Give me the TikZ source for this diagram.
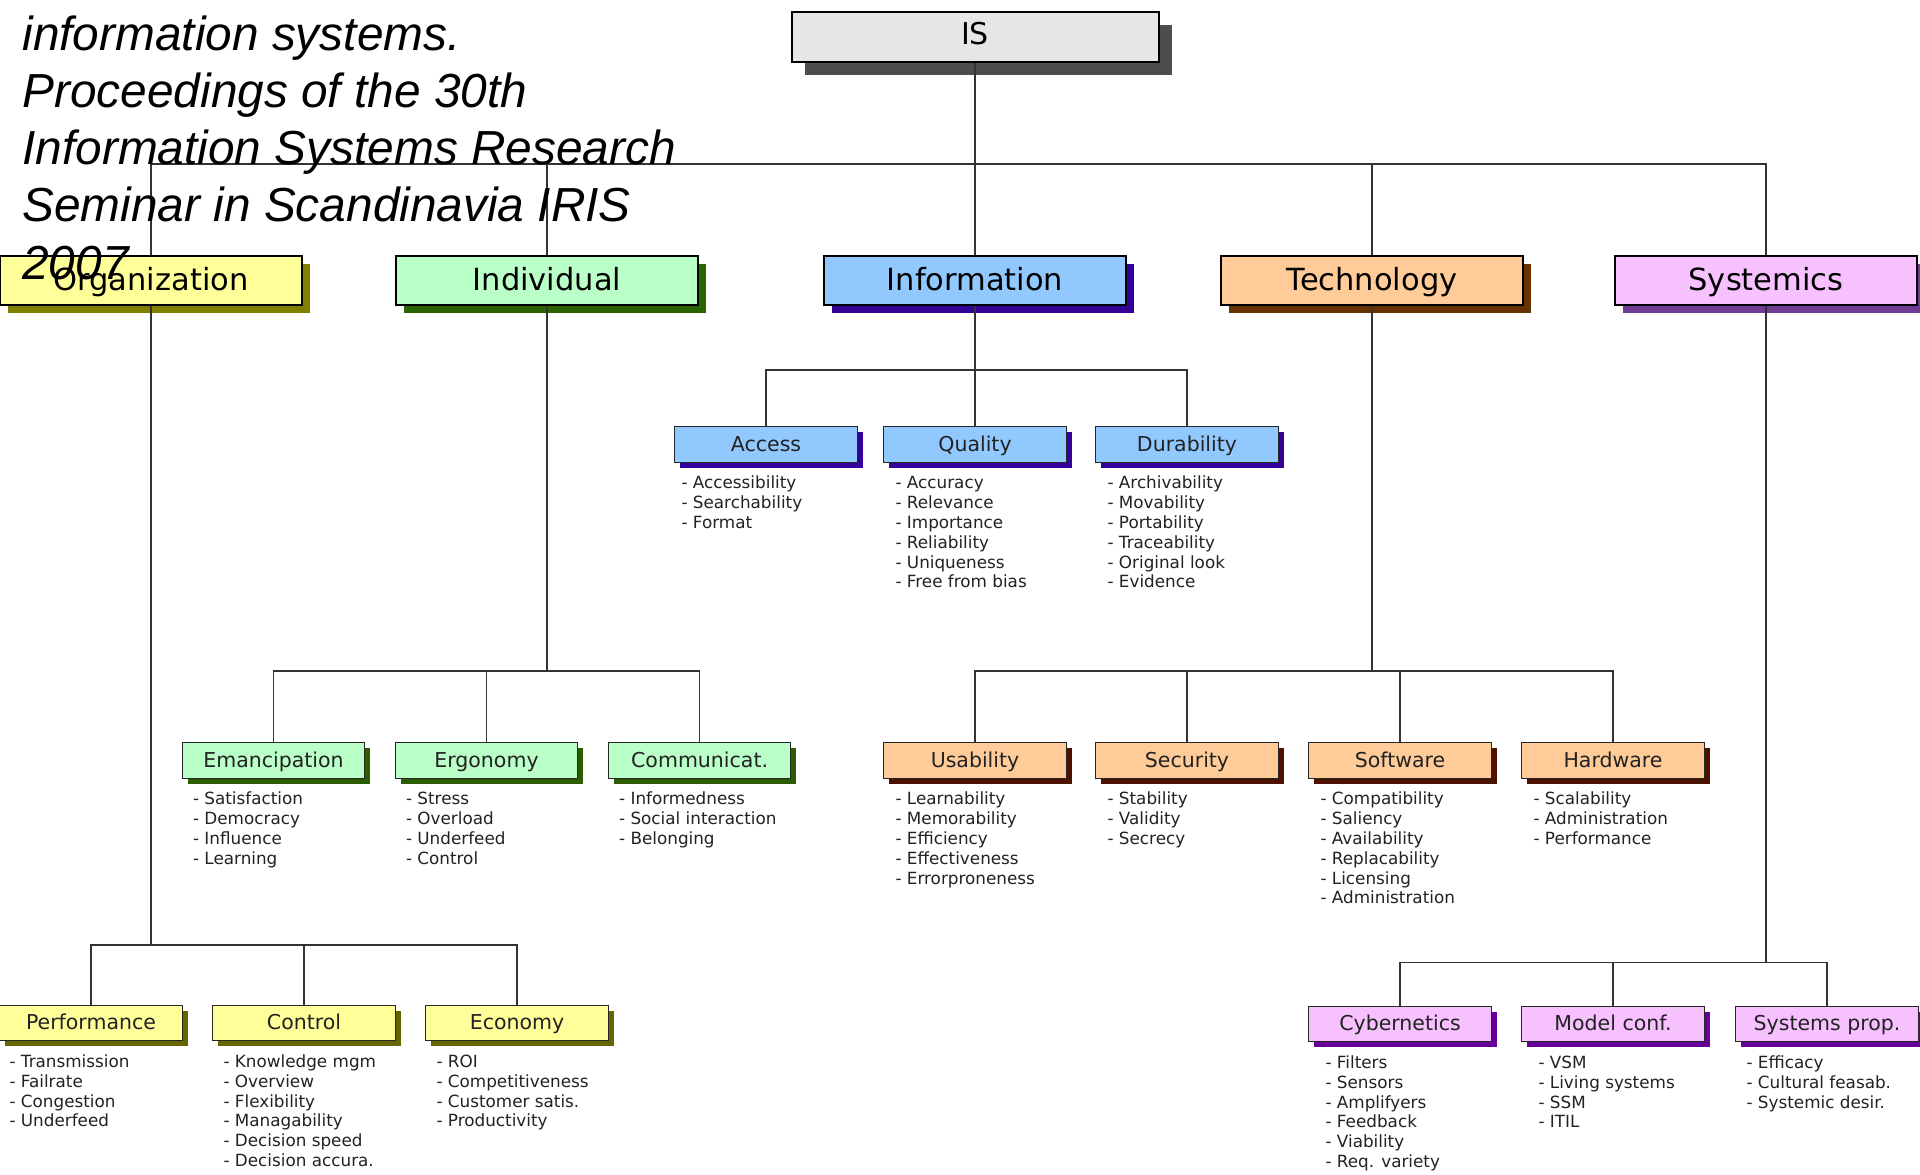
\documentclass[tikz,border=0pt]{standalone}
\usepackage{fontspec}
\setmainfont{DejaVu Sans}
\newfontfamily\titlefont{Liberation Sans}
\usetikzlibrary{shadows,calc}
\definecolor{isF}{HTML}{E6E6E6}
\definecolor{isS}{HTML}{4D4D4D}
\definecolor{orgF}{HTML}{FFFF99}
\definecolor{orgS}{HTML}{808000}
\definecolor{orgCS}{HTML}{666600}
\definecolor{indF}{HTML}{BBFFC8}
\definecolor{indS}{HTML}{2B6300}
\definecolor{indCS}{HTML}{2B5C00}
\definecolor{infF}{HTML}{91C9FF}
\definecolor{infS}{HTML}{330099}
\definecolor{tecF}{HTML}{FFCC99}
\definecolor{tecS}{HTML}{663300}
\definecolor{tecCS}{HTML}{4D1100}
\definecolor{sysF}{HTML}{F7C0FF}
\definecolor{sysS}{HTML}{703C96}
\definecolor{sysCS}{HTML}{660099}
\definecolor{lineC}{HTML}{333333}
\definecolor{txtC}{HTML}{222222}
\tikzset{
  rootbox/.style={draw=black, line width=1pt, fill=isF, minimum width=183.5pt, minimum height=25pt, inner sep=0pt,
    font=\fontsize{15}{18}\selectfont, text height=10.9pt, text depth=3.4pt,
    drop shadow={opacity=1, fill=isS, shadow xshift=6.5pt, shadow yshift=-6.5pt}},
  topbox/.style 2 args={draw=black, line width=1pt, fill=#1, minimum width=151.2pt, minimum height=24.5pt, inner sep=0pt,
    font=\fontsize{15.25}{18}\selectfont, text height=11.1pt, text depth=1.2pt,
    drop shadow={opacity=1, fill=#2, shadow xshift=4pt, shadow yshift=-4pt}},
  childbox/.style 2 args={draw=black!85, line width=0.65pt, fill=#1, minimum width=91.2pt, minimum height=17.75pt, inner sep=0pt,
    font=\fontsize{10.25}{12}\selectfont, text=txtC, text height=7.5pt, text depth=0.9pt,
    drop shadow={opacity=1, fill=#2, shadow xshift=2.75pt, shadow yshift=-2.75pt}},
  items/.style={anchor=base west, align=left, inner sep=0pt, font=\fontsize{8.4}{9.9}\selectfont, text=txtC},
  conn/.style={draw=lineC, line width=0.6pt},
  titletext/.style={anchor=base west, align=left, inner sep=0pt, font=\titlefont\itshape\fontsize{23.9}{28.6}\selectfont}
}
\begin{document}
\begin{tikzpicture}[x=0.5pt,y=-0.5pt]
\useasboundingbox (0,0) rectangle (1920,1174);
\fill[white] (0,0) rectangle (1920,1174);

% root and top level
\node[rootbox] (is) at (975,37.3) {IS};
\node[topbox={orgF}{orgS}] (org) at (151,280.5) {Organization};
\node[topbox={indF}{indS}] (ind) at (547,280.5) {Individual};
\node[topbox={infF}{infS}] (inf) at (975,280.5) {Information};
\node[topbox={tecF}{tecS}] (tec) at (1372,280.5) {Technology};
\node[topbox={sysF}{sysS}] (sys) at (1766,280.5) {Systemics};

% information children
\node[childbox={infF}{infS}] (acc) at (766,444.5) {Access};
\node[childbox={infF}{infS}] (qua) at (975,444.5) {Quality};
\node[childbox={infF}{infS}] (dur) at (1187,444.5) {Durability};

% individual children
\node[childbox={indF}{indCS}] (ema) at (273.5,760.5) {Emancipation};
\node[childbox={indF}{indCS}] (erg) at (486.5,760.5) {Ergonomy};
\node[childbox={indF}{indCS}] (com) at (699.6,760.5) {Communicat.};

% technology children
\node[childbox={tecF}{tecCS}] (usa) at (975,760.5) {Usability};
\node[childbox={tecF}{tecCS}] (sec) at (1187,760.5) {Security};
\node[childbox={tecF}{tecCS}] (sof) at (1400,760.5) {Software};
\node[childbox={tecF}{tecCS}] (har) at (1613,760.5) {Hardware};

% organization children
\node[childbox={orgF}{orgCS}] (per) at (91,1023) {Performance};
\node[childbox={orgF}{orgCS}] (con) at (304,1023) {Control};
\node[childbox={orgF}{orgCS}] (eco) at (517,1023) {Economy};

% systemics children
\node[childbox={sysF}{sysCS}] (cyb) at (1400,1024) {Cybernetics};
\node[childbox={sysF}{sysCS}] (mod) at (1613,1024) {Model conf.};
\node[childbox={sysF}{sysCS}] (spr) at (1827,1024) {Systems prop.};

% item lists (anchored at the baseline of their last line)
\node[items] (accL) at ($(acc.south west)+(7,65.6)$) {- Accessibility\\- Searchability\\- Format};
\node[items] (quaL) at ($(qua.south west)+(12,125)$) {- Accuracy\\- Relevance\\- Importance\\- Reliability\\- Uniqueness\\- Free from bias};
\node[items] (durL) at ($(dur.south west)+(12,125)$) {- Archivability\\- Movability\\- Portability\\- Traceability\\- Original look\\- Evidence};

\node[items] (emaL) at ($(ema.south west)+(11,85.4)$) {- Satisfaction\\- Democracy\\- Influence\\- Learning};
\node[items] (ergL) at ($(erg.south west)+(11,85.4)$) {- Stress\\- Overload\\- Underfeed\\- Control};
\node[items] (comL) at ($(com.south west)+(11,65.6)$) {- Informedness\\- Social interaction\\- Belonging};

\node[items] (usaL) at ($(usa.south west)+(12,105.2)$) {- Learnability\\- Memorability\\- Efficiency\\- Effectiveness\\- Errorproneness};
\node[items] (secL) at ($(sec.south west)+(12,65.6)$) {- Stability\\- Validity\\- Secrecy};
\node[items] (sofL) at ($(sof.south west)+(12,125)$) {- Compatibility\\- Saliency\\- Availability\\- Replacability\\- Licensing\\- Administration};
\node[items] (harL) at ($(har.south west)+(12,65.6)$) {- Scalability\\- Administration\\- Performance};

\node[items] (perL) at ($(per.south west)+(10,85.4)$) {- Transmission\\- Failrate\\- Congestion\\- Underfeed};
\node[items] (conL) at ($(con.south west)+(11,125)$) {- Knowledge mgm\\- Overview\\- Flexibility\\- Managability\\- Decision speed\\- Decision accura.};
\node[items] (ecoL) at ($(eco.south west)+(11,85.4)$) {- ROI\\- Competitiveness\\- Customer satis.\\- Productivity};

\node[items] (cybL) at ($(cyb.south west)+(17,125)$) {- Filters\\- Sensors\\- Amplifyers\\- Feedback\\- Viability\\- Req. variety};
\node[items] (modL) at ($(mod.south west)+(17,85.4)$) {- VSM\\- Living systems\\- SSM\\- ITIL};
\node[items] (sprL) at ($(spr.south west)+(11,65.6)$) {- Efficacy\\- Cultural feasab.\\- Systemic desir.};

% bus points
\coordinate (b0) at (975,164);
\coordinate (b1) at (975,370);
\coordinate (b2) at (547,671);
\coordinate (b3) at (1372,671);
\coordinate (b4) at (151,945);
\coordinate (b5) at (1766,962.5);

% connectors
\draw[conn] (is) -- (b0);
\draw[conn] (b0) -| (org);
\draw[conn] (b0) -| (ind);
\draw[conn] (b0) -- (inf);
\draw[conn] (b0) -| (tec);
\draw[conn] (b0) -| (sys);

\draw[conn] (inf) -- (b1);
\draw[conn] (b1) -| (acc);
\draw[conn] (b1) -- (qua);
\draw[conn] (b1) -| (dur);

\draw[conn] (ind) -- (b2);
\draw[conn] (b2) -| (ema);
\draw[conn] (b2) -| (erg);
\draw[conn] (b2) -| (com);

\draw[conn] (tec) -- (b3);
\draw[conn] (b3) -| (usa);
\draw[conn] (b3) -| (sec);
\draw[conn] (b3) -| (sof);
\draw[conn] (b3) -| (har);

\draw[conn] (org) -- (b4);
\draw[conn] (b4) -| (per);
\draw[conn] (b4) -| (con);
\draw[conn] (b4) -| (eco);

\draw[conn] (sys) -- (b5);
\draw[conn] (b5) -| (cyb);
\draw[conn] (b5) -| (mod);
\draw[conn] (b5) -| (spr);

% overlaid title text (anchored at the baseline of its last line)
\node[titletext] (title) at (22,279) {information systems.\\Proceedings of the 30th\\Information Systems Research\\Seminar in Scandinavia IRIS\\2007};
\end{tikzpicture}
\end{document}
